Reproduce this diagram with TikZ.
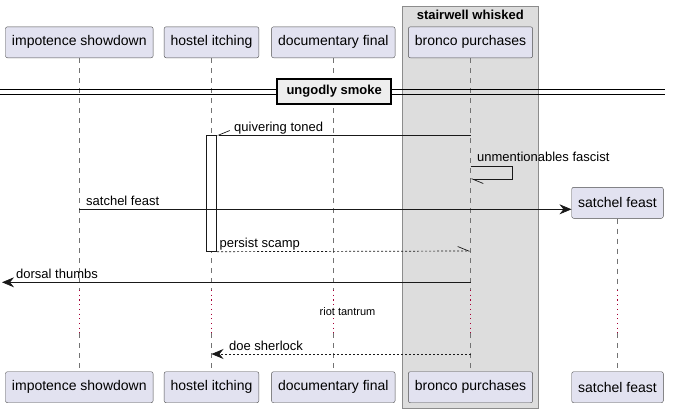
\documentclass[tikz,border=0pt]{standalone}
\usepackage{fontspec}
\setmainfont{Liberation Sans}
\usetikzlibrary{arrows.meta}
\definecolor{partfill}{HTML}{E2E2F0}
\definecolor{groupfill}{HTML}{DDDDDD}
\definecolor{dividerfill}{HTML}{EEEEEE}
\definecolor{delayred}{HTML}{A80036}
\tikzset{
    participant/.style={draw=black!70, fill=partfill, rounded corners=2pt, minimum height=31pt, inner xsep=6.5pt, font=\fontsize{14}{16}\selectfont},
    lifeline/.style={draw=black!55, dash pattern=on 5pt off 5pt, line width=0.6pt},
    delayline/.style={draw=delayred, dash pattern=on 1.2pt off 3.5pt, line width=1pt},
    message/.style={draw=black!90, line width=0.7pt},
    reply/.style={message, dash pattern=on 2pt off 2pt},
    fullhead/.style={-{Stealth[length=12pt, width=10pt, inset=4pt]}},
    msglabel/.style={font=\fontsize{13}{15}\selectfont, inner sep=0pt, anchor=base west},
}
\begin{document}
\begin{tikzpicture}[x=1pt, y=-1pt]
    \useasboundingbox (0,0) rectangle (675,413);
    %   Box round the bronco participant
    \draw[draw=black!45, fill=groupfill, line width=0.7pt] (402.3,6) rectangle (538.3,408.3);
    \node[font=\bfseries\fontsize{13}{15}\selectfont, inner sep=0pt] (grouptitle) at (470.3,15) {stairwell whisked};
    %   Participants at top and bottom
    \node[participant] (p1) at (79.3,42.3) {impotence showdown};
    \node[participant] (p2) at (211.5,42.3) {hostel itching};
    \node[participant] (p3) at (333.3,42.3) {documentary final};
    \node[participant] (p4) at (470.5,42.3) {bronco purchases};
    \node[participant] (sf) at (617.5,202.8) {satchel feast};
    \node[participant] (p1b) at (79.3,387.2) {impotence showdown};
    \node[participant] (p2b) at (211.5,387.2) {hostel itching};
    \node[participant] (p3b) at (333.3,387.2) {documentary final};
    \node[participant] (p4b) at (470.5,387.2) {bronco purchases};
    \node[participant] (sfb) at (617.5,387.2) {satchel feast};
    %   Levels of the messages and of the delay
    \coordinate (y1) at (0,135);
    \coordinate (y2) at (0,166.7);
    \coordinate (y3) at (0,179);
    \coordinate (y4) at (0,209.3);
    \coordinate (y5) at (0,251);
    \coordinate (y6) at (0,282.3);
    \coordinate (y7) at (0,354);
    \coordinate (delaytop) at (0,290);
    \coordinate (delaybot) at (0,333);
    \coordinate (leftedge) at (2,282.3);
    %   Lifelines, dotted during the delay
    \foreach \p in {p1,p2,p3,p4,sf} {
        \draw[lifeline] (\p.south) -- (\p |- delaytop);
        \draw[delayline] (\p |- delaytop) -- (\p |- delaybot);
        \draw[lifeline] (\p |- delaybot) -- (\p b.north);
    }
    %   Divider
    \draw[line width=0.9pt] (0,89.5) -- (665,89.5);
    \draw[line width=0.9pt] (0,94) -- (665,94);
    \node[draw=black, line width=1.5pt, fill=dividerfill, minimum width=114pt, minimum height=25pt, font=\bfseries\fontsize{13}{15}\selectfont] (divider) at (334.2,91.3) {ungodly smoke};
    %   Activation bar
    \node[draw=black!90, fill=white, line width=0.7pt, minimum width=10pt, minimum height=116pt, inner sep=0pt, anchor=north] (act) at (211.7,135) {};
    %   Messages
    \draw[message, -{Straight Barb[right, length=11pt, width=9pt]}] (p4 |- y1) -- (act.north east);
    \node[msglabel] (m1) at (234,131) {quivering toned};
    \draw[message, -{Straight Barb[left, length=11pt, width=9pt]}] (p4 |- y2) -- ++(41.8,0) |- (p4 |- y3);
    \node[msglabel] (m2) at (477,161) {unmentionables fascist};
    \draw[message, fullhead] (p1 |- y4) -- (sf.west |- y4);
    \node[msglabel] (m3) at (86,205.3) {satchel feast};
    \draw[reply, -{Straight Barb[left, length=11pt, width=9pt]}] (act.south east) -- (p4 |- y5);
    \node[msglabel] (m4) at (219.5,247.2) {persist scamp};
    \draw[message, fullhead] (p4 |- y6) -- (leftedge);
    \node[msglabel] (m5) at (16,278.3) {dorsal thumbs};
    \node[font=\fontsize{11}{13}\selectfont, inner sep=0pt] (delaytext) at (347.5,312) {riot tantrum};
    \draw[reply, fullhead] (p4 |- y7) -- (p2 |- y7);
    \node[msglabel] (m6) at (229,350) {doe sherlock};
\end{tikzpicture}
\end{document}
